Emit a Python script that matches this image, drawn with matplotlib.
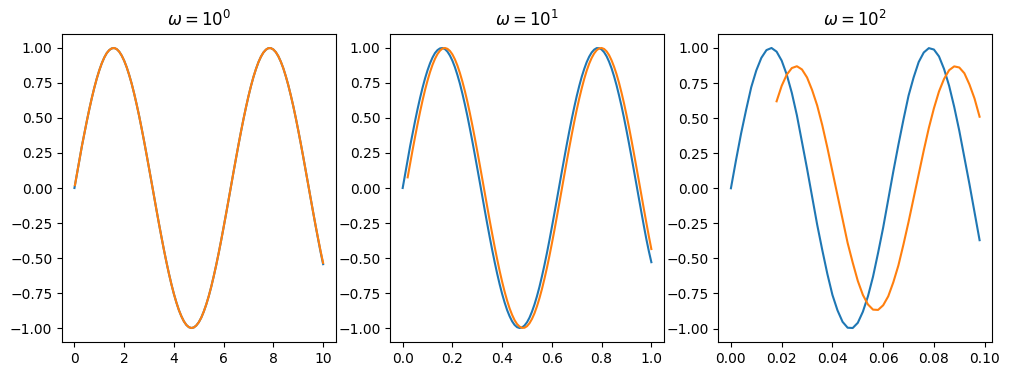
import numpy as np
import matplotlib
matplotlib.use("Agg")
import matplotlib.pyplot as plt

# panel titles
titles = [r"$\omega = 10^0$", r"$\omega = 10^1$", r"$\omega = 10^2$"]

# omega = 1 (t from 0 to 10, 101 samples)
t_1 = np.linspace(0, 10, 101)
blue_1 = [0.00, 0.10, 0.20, 0.30, 0.39, 0.48, 0.565, 0.644, 0.717, 0.783,
          0.841, 0.891, 0.932, 0.964, 0.985, 0.997, 1.000, 0.992, 0.974, 0.946,
          0.909, 0.863, 0.808, 0.746, 0.675, 0.598, 0.516, 0.427, 0.335, 0.239,
          0.141, 0.042, -0.058, -0.158, -0.256, -0.351, -0.443, -0.530, -0.612, -0.688,
          -0.757, -0.818, -0.872, -0.916, -0.952, -0.978, -0.994, -1.000, -0.996, -0.982,
          -0.959, -0.926, -0.883, -0.832, -0.773, -0.706, -0.631, -0.551, -0.465, -0.374,
          -0.279, -0.182, -0.083, 0.017, 0.117, 0.215, 0.312, 0.405, 0.494, 0.578,
          0.657, 0.729, 0.794, 0.850, 0.899, 0.938, 0.968, 0.988, 0.999, 0.999,
          0.989, 0.970, 0.941, 0.902, 0.855, 0.798, 0.734, 0.662, 0.585, 0.501,
          0.412, 0.319, 0.223, 0.124, 0.025, -0.075, -0.174, -0.272, -0.366, -0.458,
          -0.544]
t_1_out = np.concatenate([[0.02], np.linspace(0.1, 10, 100)])
orange_1 = [0.02, 0.10, 0.20, 0.30, 0.39, 0.48, 0.565, 0.644, 0.717, 0.783,
            0.841, 0.891, 0.932, 0.964, 0.985, 0.997, 1.000, 0.992, 0.974, 0.946,
            0.909, 0.863, 0.808, 0.746, 0.675, 0.598, 0.516, 0.427, 0.335, 0.239,
            0.141, 0.042, -0.058, -0.158, -0.256, -0.351, -0.443, -0.530, -0.612, -0.688,
            -0.757, -0.818, -0.872, -0.916, -0.952, -0.978, -0.994, -1.000, -0.996, -0.982,
            -0.959, -0.926, -0.883, -0.832, -0.773, -0.706, -0.631, -0.551, -0.465, -0.374,
            -0.279, -0.182, -0.083, 0.017, 0.117, 0.215, 0.312, 0.405, 0.494, 0.578,
            0.657, 0.729, 0.794, 0.850, 0.899, 0.938, 0.968, 0.988, 0.999, 0.999,
            0.989, 0.970, 0.941, 0.902, 0.855, 0.798, 0.734, 0.662, 0.585, 0.501,
            0.412, 0.319, 0.223, 0.124, 0.025, -0.075, -0.174, -0.270, -0.362, -0.452,
            -0.535]

# omega = 10 (t from 0 to 1)
t_2 = np.linspace(0, 1, 101)
blue_2 = [0.00, 0.10, 0.20, 0.30, 0.39, 0.48, 0.565, 0.644, 0.717, 0.783,
          0.841, 0.891, 0.932, 0.964, 0.985, 0.997, 1.000, 0.992, 0.974, 0.946,
          0.909, 0.863, 0.808, 0.746, 0.675, 0.598, 0.516, 0.427, 0.335, 0.239,
          0.141, 0.042, -0.058, -0.158, -0.256, -0.351, -0.443, -0.530, -0.612, -0.688,
          -0.757, -0.818, -0.872, -0.916, -0.952, -0.978, -0.994, -1.000, -0.996, -0.982,
          -0.959, -0.926, -0.883, -0.832, -0.773, -0.706, -0.631, -0.551, -0.465, -0.374,
          -0.279, -0.182, -0.083, 0.017, 0.117, 0.215, 0.312, 0.405, 0.494, 0.578,
          0.657, 0.729, 0.794, 0.850, 0.899, 0.938, 0.968, 0.988, 0.999, 0.999,
          0.989, 0.970, 0.941, 0.902, 0.855, 0.798, 0.734, 0.662, 0.585, 0.501,
          0.412, 0.319, 0.223, 0.124, 0.025, -0.075, -0.174, -0.272, -0.366, -0.452,
          -0.53]
t_2_out = np.linspace(0.02, 1, 99)
orange_2 = [0.076, 0.175, 0.273, 0.367, 0.458, 0.545, 0.626, 0.701, 0.768, 0.828,
            0.880, 0.923, 0.957, 0.981, 0.996, 1.000, 0.994, 0.979, 0.954, 0.919,
            0.875, 0.822, 0.761, 0.693, 0.618, 0.536, 0.449, 0.358, 0.263, 0.165,
            0.066, -0.034, -0.134, -0.233, -0.328, -0.421, -0.509, -0.593, -0.670, -0.741,
            -0.804, -0.860, -0.906, -0.944, -0.972, -0.990, -0.999, -0.998, -0.987, -0.966,
            -0.935, -0.895, -0.845, -0.787, -0.722, -0.649, -0.571, -0.486, -0.396, -0.303,
            -0.206, -0.107, -0.007, 0.093, 0.192, 0.289, 0.383, 0.473, 0.559, 0.639,
            0.712, 0.779, 0.838, 0.888, 0.929, 0.961, 0.984, 0.997, 1.000, 0.993,
            0.976, 0.949, 0.912, 0.866, 0.813, 0.751, 0.681, 0.605, 0.522, 0.435,
            0.342, 0.246, 0.148, 0.049, -0.051, -0.151, -0.249, -0.345, -0.436]

# omega = 100 (t from 0 to 0.098)
t_3 = np.linspace(0, 0.098, 50)
blue_3 = [0.00, 0.20, 0.39, 0.56, 0.72, 0.84, 0.93, 0.985, 1.00, 0.974,
          0.91, 0.81, 0.68, 0.52, 0.33, 0.14, -0.06, -0.26, -0.44, -0.61,
          -0.76, -0.87, -0.952, -0.994, -0.996, -0.959, -0.88, -0.77, -0.63, -0.46,
          -0.28, -0.08, 0.12, 0.31, 0.49, 0.66, 0.79, 0.90, 0.968, 0.999,
          0.989, 0.94, 0.85, 0.73, 0.58, 0.41, 0.22, 0.03, -0.17, -0.37]
t_3_out = np.linspace(0.018, 0.098, 41)
orange_3 = [0.62, 0.73, 0.81, 0.857, 0.870, 0.847, 0.79, 0.70, 0.59, 0.45,
            0.29, 0.12, -0.05, -0.22, -0.39, -0.53, -0.66, -0.76, -0.828, -0.865,
            -0.867, -0.834, -0.77, -0.67, -0.55, -0.40, -0.24, -0.07, 0.10, 0.27,
            0.43, 0.57, 0.69, 0.78, 0.842, 0.869, 0.861, 0.82, 0.74, 0.64,
            0.51]

series = [
    (t_1, blue_1, t_1_out, orange_1),
    (t_2, blue_2, t_2_out, orange_2),
    (t_3, blue_3, t_3_out, orange_3),
]

fig, axes = plt.subplots(1, 3, figsize=(10.1, 3.76), dpi=100)
fig.subplots_adjust(left=0.0614, right=0.9822, bottom=0.0904, top=0.9096, wspace=0.2)

for ax, title, (t_in, y_in, t_out, y_out) in zip(axes, titles, series):
    ax.plot(t_in, y_in)
    ax.plot(t_out, y_out)
    ax.set_title(title)

fig.savefig("out.png", dpi=100)
